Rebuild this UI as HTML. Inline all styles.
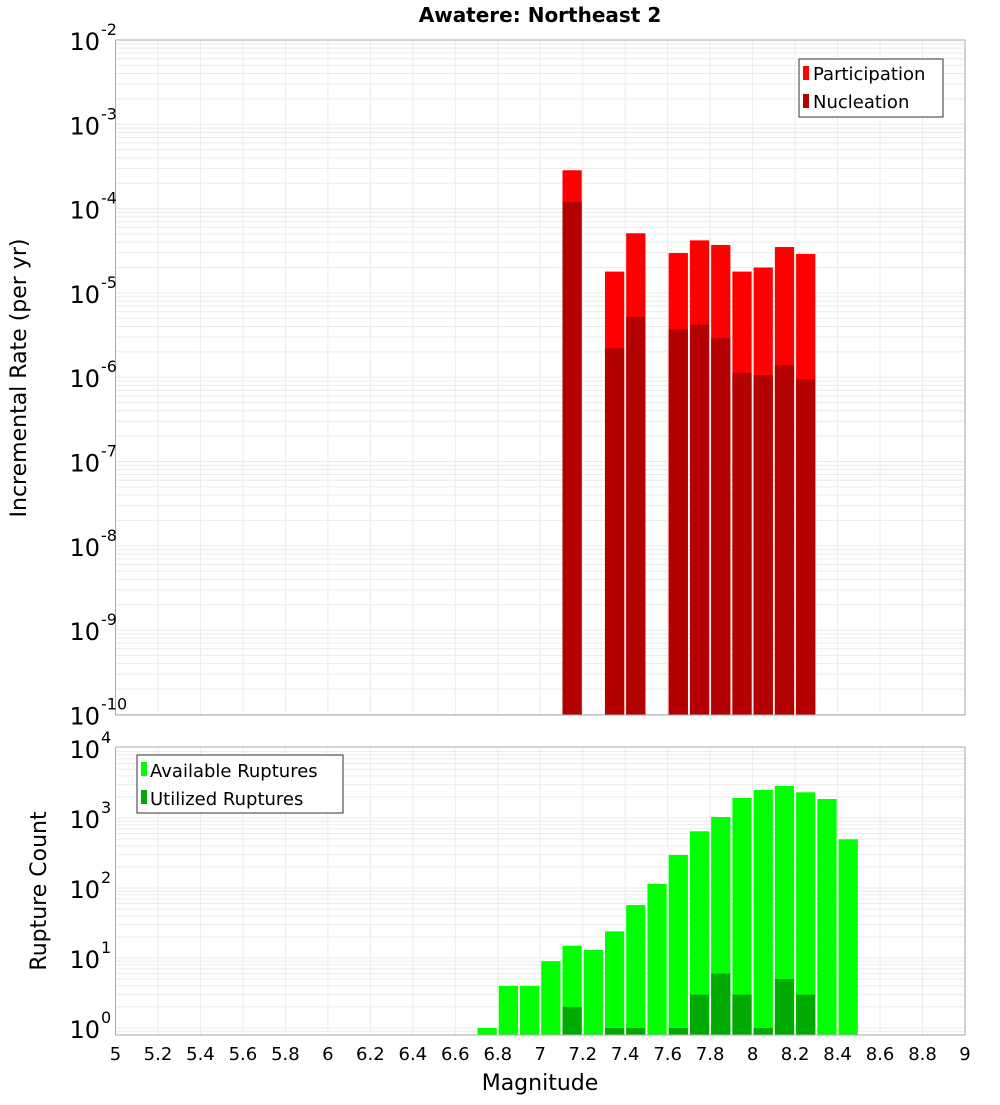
<!DOCTYPE html>
<html><head><meta charset="utf-8"><style>
body{margin:0;background:#fff;}
svg text{font-family:"DejaVu Sans","Liberation Sans",sans-serif;}
</style></head><body>
<svg id="chart" width="1000" height="1100" xmlns="http://www.w3.org/2000/svg">
<g id="topG"></g>
<g id="botG"></g>
<g id="xtG"></g>
<text x="540" y="22" text-anchor="middle" font-size="20" font-weight="bold">Awatere: Northeast 2</text>
<text transform="translate(26,378) rotate(-90)" text-anchor="middle" font-size="22">Incremental Rate (per yr)</text>
<text transform="translate(46,891) rotate(-90)" text-anchor="middle" font-size="22">Rupture Count</text>
<text x="540" y="1090" text-anchor="middle" font-size="22">Magnitude</text>
<g>
<rect x="799" y="59" width="144" height="58" fill="#fff" stroke="#333"/>
<rect x="803" y="66" width="6" height="14" fill="#ff0000"/>
<text x="813" y="80" font-size="18">Participation</text>
<rect x="803" y="94" width="6" height="14" fill="#b30000"/>
<text x="813" y="108" font-size="18">Nucleation</text>
</g>
<g>
<rect x="137" y="755" width="206" height="58" fill="#fff" stroke="#333"/>
<rect x="141" y="762" width="6" height="14" fill="#00ff00"/>
<text x="150" y="777" font-size="18">Available Ruptures</text>
<rect x="141" y="790" width="6" height="14" fill="#00aa00"/>
<text x="150" y="805" font-size="18">Utilized Ruptures</text>
</g>
</svg>
<script>
const rateMags=[7.1,7.3,7.4,7.6,7.7,7.8,7.9,8.0,8.1,8.2];
const participation=[2.85e-4,1.79e-5,5.1e-5,2.97e-5,4.2e-5,3.7e-5,1.79e-5,2.0e-5,3.5e-5,2.9e-5];
const nucleation=[1.2e-4,2.2e-6,5.2e-6,3.7e-6,4.2e-6,2.9e-6,1.13e-6,1.06e-6,1.38e-6,9.4e-7];
const countMags=[6.7,6.8,6.9,7.0,7.1,7.2,7.3,7.4,7.5,7.6,7.7,7.8,7.9,8.0,8.1,8.2,8.3,8.4];
const available=[1,4,4,9,15,13,24,57,114,296,646,1033,1930,2510,2870,2330,1870,497];
const utilized=[0,0,0,0,2,0,1,1,0,1,3,6,3,1,5,3,0,0];
const xTicks=[5,5.2,5.4,5.6,5.8,6,6.2,6.4,6.6,6.8,7,7.2,7.4,7.6,7.8,8,8.2,8.4,8.6,8.8,9];
const topExps=[-2,-3,-4,-5,-6,-7,-8,-9,-10];
const botExps=[4,3,2,1,0];

const NS="http://www.w3.org/2000/svg";
const L=115.5,R=965;
const x=m=>L+(m-5)*(R-L)/4;
const yT=v=>40+(-2-Math.log10(v))*84.3;
const T_TOP=40,T_BOT=715;
const yB=v=>1028-Math.log10(v)*70;
const B_TOP=747,B_BOT=1035;
function mk(p,tag,a){const e=document.createElementNS(NS,tag);for(const k in a)e.setAttribute(k,a[k]);p.appendChild(e);return e;}
function panel(g,t0,b0,lo,hi,yf){
  mk(g,'rect',{x:L,y:t0,width:R-L,height:b0-t0,fill:'#fff'});
  for(let e=lo;e<hi;e++)for(let k=1;k<10;k++){const yy=yf(k*Math.pow(10,e));if(yy<t0||yy>b0)continue;
    const l=mk(g,'line',{x1:L,x2:R,y1:yy,y2:yy,stroke:'#ebebeb','stroke-width':1});
    
    }
  xTicks.forEach(t=>{const l=mk(g,'line',{x1:x(t),x2:x(t),y1:t0,y2:b0,stroke:'#ebebeb'});
    
    });
}
function frame(g,t0,b0){mk(g,'rect',{x:L,y:t0,width:R-L,height:b0-t0,fill:'none',stroke:'#aaa'});}
function bars(g,mags,vals,yf,b0,col,name){
  mags.forEach((m,i)=>{if(!(vals[i]>0))return;const yy=yf(vals[i]);
    const r=mk(g,'rect',{x:x(m)+1,y:yy,width:x(m+0.1)-x(m)-2,height:b0-yy,fill:col});
    
    });
}
function ylabels(g,exps,yf){
  exps.forEach(e=>{const yy=yf(Math.pow(10,e));
    const t=mk(g,'text',{x:100,y:yy+10,'text-anchor':'end','font-size':24});
    
    
    t.textContent='10';
    const s=mk(g,'text',{x:101,y:yy-5,'font-size':16});
    
    
    s.textContent=String(e);});
}
const gTop=document.getElementById('topG'),gBot=document.getElementById('botG'),gXt=document.getElementById('xtG');
panel(gTop,T_TOP,T_BOT,-10,-2,yT);
bars(gTop,rateMags,participation,yT,T_BOT,'#ff0000','participation');
bars(gTop,rateMags,nucleation,yT,T_BOT,'#b30000','nucleation');
frame(gTop,T_TOP,T_BOT);
ylabels(gTop,topExps,yT);
panel(gBot,B_TOP,B_BOT,-1,4,yB);
bars(gBot,countMags,available,yB,B_BOT,'#00ff00','available');
bars(gBot,countMags,utilized,yB,B_BOT,'#00aa00','utilized');
frame(gBot,B_TOP,B_BOT);
ylabels(gBot,botExps,yB);
xTicks.forEach(t=>{const e=mk(gXt,'text',{x:x(t),y:1060,'text-anchor':'middle','font-size':18});
  
  
  e.textContent=String(+t.toFixed(1));});
</script>
</body></html>
